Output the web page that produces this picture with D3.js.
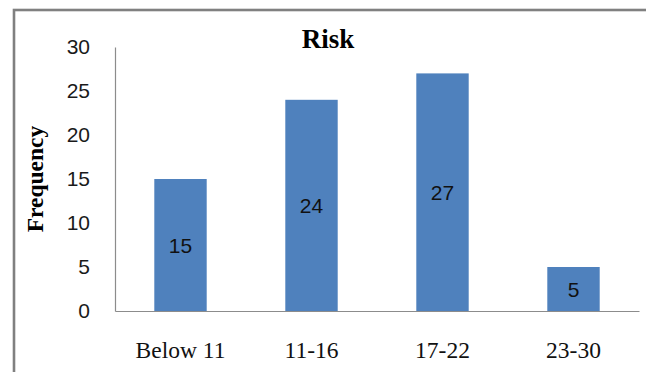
<!DOCTYPE html>
<html>
<head>
<meta charset="utf-8">
<script src="https://cdn.jsdelivr.net/npm/d3@7/dist/d3.min.js"></script>
<style>
  html, body { margin: 0; padding: 0; background: #fff; }
  svg { display: block; }
</style>
</head>
<body>
<script>
// Risk score groups and how many respondents fall in each
const categories = ["Below 11", "11-16", "17-22", "23-30"];
const frequency = [15, 24, 27, 5];
const yTicks = [0, 5, 10, 15, 20, 25, 30];
const chartTitle = "Risk";
const yTitle = "Frequency";

const W = 646, H = 372;
const plot = { left: 115, right: 639, top: 47, bottom: 311 };

const svg = d3.select("body").append("svg")
  .attr("width", W).attr("height", H);

// outer chart frame (open on the right and bottom edges of the page)
svg.append("rect")
  .attr("x", 14).attr("y", 10)
  .attr("width", W + 20).attr("height", H + 20)
  .attr("fill", "none")
  .attr("stroke", "#808080")
  .attr("stroke-width", 2.6);

const x = d3.scaleBand()
  .domain(categories)
  .range([plot.left, plot.right])
  .paddingInner(0.6)
  .paddingOuter(0.3);

const y = d3.scaleLinear()
  .domain([0, 30])
  .range([plot.bottom, plot.top]);

// y axis: line plus tick labels, no tick marks
const yAxis = svg.append("g")
  .attr("transform", `translate(${plot.left},0)`)
  .call(d3.axisLeft(y).tickValues(yTicks).tickSize(0).tickPadding(25));
yAxis.select(".domain").attr("stroke", "#8c8c8c").attr("stroke-width", 1.2);
yAxis.selectAll("text")
  .attr("font-family", "'Liberation Sans', Arial, sans-serif")
  .attr("font-size", 21)
  .attr("fill", "#1a1a1a");

// bars
svg.append("g").selectAll("rect")
  .data(frequency)
  .join("rect")
  .attr("x", (d, i) => x(categories[i]))
  .attr("y", d => y(d))
  .attr("width", x.bandwidth())
  .attr("height", d => y(0) - y(d))
  .attr("fill", "#4f81bd");

// x axis baseline with category labels
const xAxis = svg.append("g")
  .attr("transform", `translate(0,${plot.bottom})`)
  .call(d3.axisBottom(x).tickSize(0).tickPadding(30).tickSizeOuter(0));
xAxis.select(".domain").attr("stroke", "#8c8c8c").attr("stroke-width", 1.2);
xAxis.selectAll("text")
  .attr("font-family", "'Liberation Serif', 'Times New Roman', serif")
  .attr("font-size", 23.5)
  .attr("fill", "#111");

// value labels centred inside each bar
svg.append("g").selectAll("text")
  .data(frequency)
  .join("text")
  .attr("x", (d, i) => x(categories[i]) + x.bandwidth() / 2)
  .attr("y", d => (y(d) + y(0)) / 2)
  .attr("text-anchor", "middle")
  .attr("dominant-baseline", "central")
  .attr("font-family", "'Liberation Sans', Arial, sans-serif")
  .attr("font-size", 21)
  .attr("fill", "#111")
  .text(d => d);

// chart title
svg.append("text")
  .attr("x", 328).attr("y", 48)
  .attr("text-anchor", "middle")
  .attr("font-family", "'Liberation Serif', 'Times New Roman', serif")
  .attr("font-weight", "bold")
  .attr("font-size", 27)
  .attr("fill", "#000")
  .text(chartTitle);

// y axis title
svg.append("text")
  .attr("transform", "translate(43,179) rotate(-90)")
  .attr("text-anchor", "middle")
  .attr("font-family", "'Liberation Serif', 'Times New Roman', serif")
  .attr("font-weight", "bold")
  .attr("font-size", 23.5)
  .attr("fill", "#000")
  .text(yTitle);
</script>
</body>
</html>
